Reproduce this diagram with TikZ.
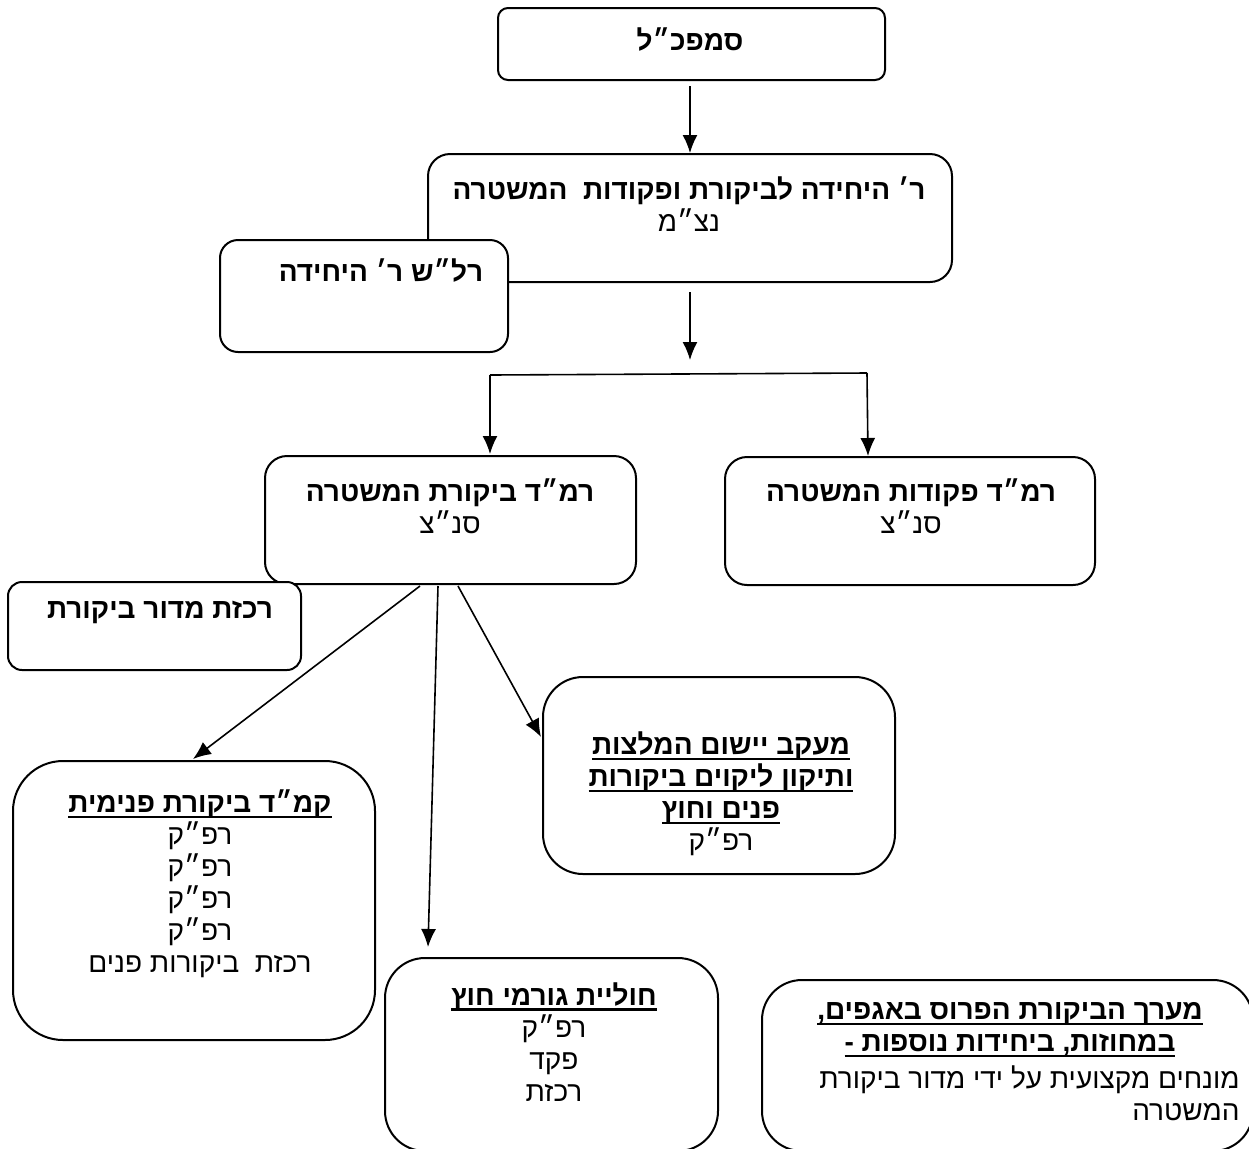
\documentclass[tikz,border=0pt]{standalone}
\usepackage{fontspec}
\setmainfont{Liberation Sans}[Script=Hebrew]
\TeXXeTstate=1
\usetikzlibrary{arrows.meta,fit}
\newcommand\RL[1]{\beginR #1\endR}
\newcommand\RU[1]{\setbox0=\hbox{\beginR #1\endR}\leavevmode\rlap{\rule[-2.6pt]{\wd0}{1.1pt}}\box0}
\begin{document}
\begin{tikzpicture}[x=0.5pt,y=-0.5pt,
  box/.style={draw, line width=1pt, fill=white, inner sep=0pt},
  txt/.style={font=\fontsize{14}{16}\selectfont, align=center, inner sep=0pt},
  arr/.style={line width=0.8pt, -{Latex[length=9pt,width=7.5pt]}},
  ln/.style={line width=0.8pt}]
\useasboundingbox (0,0) rectangle (1249,1148);
\fill[white] (0,0) rectangle (1249,1148);

% boxes
\node[box, rounded corners=5pt, fit={(498,8)(885,80)}] (b1) {};
\node[box, rounded corners=11pt, fit={(428,154)(952,282)}] (b2) {};
\node[box, rounded corners=9pt, fit={(220,240)(508,352)}] (b3) {};
\node[box, rounded corners=11pt, fit={(265,456)(636,584)}] (b7) {};
\node[box, rounded corners=11pt, fit={(725,457)(1095,585)}] (b8) {};
\node[box, rounded corners=7pt, fit={(8,582)(301,670)}] (b9) {};
\node[box, rounded corners=20pt, fit={(543,677)(895,874)}] (b10) {};
\node[box, rounded corners=25pt, fit={(13,761)(375,1040)}] (b11) {};
\node[box, rounded corners=20pt, fit={(385,958)(718,1151)}] (b12) {};
\node[box, rounded corners=20pt, fit={(762,980)(1253,1151)}] (b13) {};

% texts
\node[txt, font=\fontsize{14}{16}\selectfont\bfseries] (t1) at (690,40) {\RL{סמפכ״ל}};
\node[txt] (t2) at (689,204) {\textbf{\RL{ר׳ היחידה לביקורת ופקודות\ \ המשטרה}}\\\RL{נצ״מ}};
\node[txt, font=\fontsize{14}{16}\selectfont\bfseries] (t3) at (381,271) {\RL{רל״ש ר׳ היחידה}};
\node[txt] (t7) at (450,506) {\textbf{\RL{רמ״ד ביקורת המשטרה}}\\\RL{סנ״צ}};
\node[txt] (t8) at (911,506) {\textbf{\RL{רמ״ד פקודות המשטרה}}\\\RL{סנ״צ}};
\node[txt, font=\fontsize{14}{16}\selectfont\bfseries] (t9) at (160,612) {\RL{רכזת מדור ביקורת}};
\node[txt] (t10) at (721,794) {\textbf{\RU{מעקב יישום המלצות}}\\\textbf{\RU{ותיקון ליקוים ביקורות}}\\\textbf{\RU{פנים וחוץ}}\\\RL{רפ״ק}};
\node[txt] (t11) at (200,884) {\textbf{\RU{קמ״ד ביקורת פנימית}}\\\RL{רפ״ק}\\\RL{רפ״ק}\\\RL{רפ״ק}\\\RL{רפ״ק}\\\RL{רכזת\ \ ביקורות פנים}};
\node[txt] (t12) at (554,1042) {\textbf{\RU{חוליית גורמי חוץ}}\\\RL{רפ״ק}\\\RL{פקד}\\\RL{רכזת}};
\node[txt] (t13a) at (1010,1030) {\textbf{\RU{מערך הביקורת הפרוס באגפים,}}\\\textbf{\RU{במחוזות, ביחידות נוספות -}}};
\node[txt, align=right, anchor=east] (t13b) at (1240,1093) {\RL{מונחים מקצועית על ידי מדור ביקורת}\\\RL{המשטרה}};

% connector coordinates
\coordinate (a1s) at (690,86);
\coordinate (a2s) at (690,292);
\coordinate (a2e) at (690,360);
\coordinate (fl) at (490,375);
\coordinate (fr) at (867,373);
\coordinate (fle) at (490,454);
\coordinate (fre) at (868,456);
\coordinate (s1) at (420,586);
\coordinate (s2) at (438,586);
\coordinate (s3) at (458,586);
\coordinate (e1) at (193,759);
\coordinate (e2) at (428,947);
\coordinate (e3) at (541,737);

% connectors
\draw[arr] (a1s) -- (b2.north);
\draw[arr] (a2s) -- (a2e);
\draw[ln] (fl) -- (fr);
\draw[arr] (fl) -- (fle);
\draw[arr] (fr) -- (fre);
\draw[arr] (s1) -- (e1);
\draw[arr] (s2) -- (e2);
\draw[arr] (s3) -- (e3);
\end{tikzpicture}
\end{document}
